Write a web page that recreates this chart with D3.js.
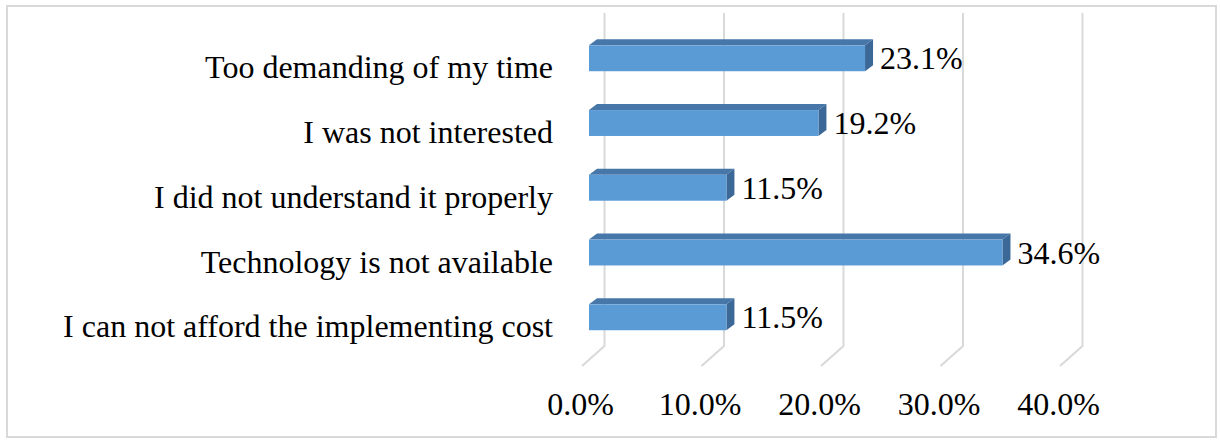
<!DOCTYPE html>
<html>
<head>
<meta charset="utf-8">
<script src="https://cdn.jsdelivr.net/npm/d3@7"></script>
<style>
  html, body { margin: 0; padding: 0; background: #fff; }
  svg { display: block; }
  text { font-family: "Liberation Serif", "Times New Roman", serif; fill: #000; }
</style>
</head>
<body>
<svg id="chart" width="1220" height="440"></svg>
<script>
// Reasons given for not adopting (share of respondents)
const categories = [
  "Too demanding of my time",
  "I was not interested",
  "I did not understand it properly",
  "Technology is not available",
  "I can not afford the implementing cost"
];
const values = [23.1, 19.2, 11.5, 34.6, 11.5];
const tickValues = [0, 10, 20, 30, 40];
const tickLabels = ["0.0%", "10.0%", "20.0%", "30.0%", "40.0%"];

const svg = d3.select("#chart");

// outer frame
svg.append("rect")
  .attr("x", 7).attr("y", 6)
  .attr("width", 1209).attr("height", 431)
  .attr("fill", "#fff")
  .attr("stroke", "#d9d9d9")
  .attr("stroke-width", 2);

// 3D layout: back wall, bar plane and floor front are shifted copies of one scale
const x = d3.scaleLinear().domain([0, 40]).range([0, 478]);
const backX = 604.5, barX = 589, floorX = 582;
const wallTop = 13, wallBottom = 346;
const floorDx = floorX - backX, floorDy = 20;
const depthDx = 8, depthDy = -6;

const y = d3.scaleBand()
  .domain(categories)
  .range([25.9, 349.65])
  .paddingInner(0.6)
  .paddingOuter(0.3);

// gridlines on the back wall and across the floor
const grid = svg.append("g").attr("fill", "none").attr("stroke", "#d9d9d9").attr("stroke-width", 2);
tickValues.forEach(t => {
  const gx = backX + x(t);
  grid.append("path")
    .attr("d", `M${gx},${wallTop} L${gx},${wallBottom} L${gx + floorDx},${wallBottom + floorDy}`);
});

// bars: front face, top face and right side face
const bars = svg.append("g").selectAll("g")
  .data(categories.map((c, i) => ({ c, v: values[i] })))
  .join("g");

bars.append("path")
  .attr("fill", "#4677a8")
  .attr("d", d => {
    const x0 = barX, x1 = barX + x(d.v), y0 = y(d.c);
    return `M${x0},${y0} L${x0 + depthDx},${y0 + depthDy} L${x1 + depthDx},${y0 + depthDy} L${x1},${y0} Z`;
  });

bars.append("path")
  .attr("fill", "#3b6896")
  .attr("d", d => {
    const x1 = barX + x(d.v), y0 = y(d.c), y1 = y0 + y.bandwidth();
    return `M${x1},${y0} L${x1 + depthDx},${y0 + depthDy} L${x1 + depthDx},${y1 + depthDy} L${x1},${y1} Z`;
  });

bars.append("rect")
  .attr("x", barX)
  .attr("y", d => y(d.c))
  .attr("width", d => x(d.v))
  .attr("height", y.bandwidth())
  .attr("fill", "#5b9bd5");

// value labels
bars.append("text")
  .attr("x", d => barX + x(d.v) + depthDx + 7)
  .attr("y", d => y(d.c) + y.bandwidth() / 2 + 11)
  .attr("font-size", 32)
  .text(d => d.v.toFixed(1) + "%");

// category labels
svg.append("g").selectAll("text")
  .data(categories)
  .join("text")
  .attr("x", 553)
  .attr("y", d => y(d) + y.bandwidth() / 2 + 20)
  .attr("text-anchor", "end")
  .attr("font-size", 32)
  .text(d => d);

// value axis labels along the floor front
svg.append("g").selectAll("text")
  .data(tickValues)
  .join("text")
  .attr("x", (d) => floorX - 1.5 + x(d))
  .attr("y", 415)
  .attr("text-anchor", "middle")
  .attr("font-size", 32)
  .text((d, i) => tickLabels[i]);
</script>
</body>
</html>
